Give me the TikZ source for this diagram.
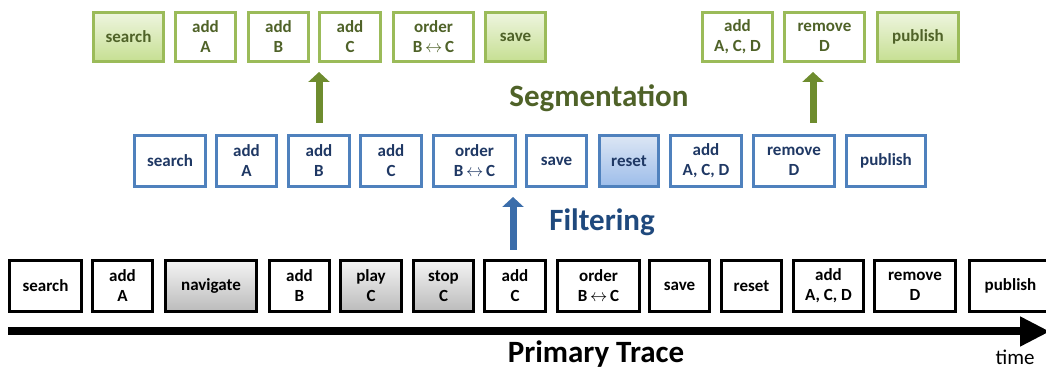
\documentclass[tikz,border=0pt]{standalone}
\usepackage{fontspec}
\setmainfont{Carlito}
\usetikzlibrary{shadows,arrows.meta}
\definecolor{gborder}{HTML}{9BBB59}
\definecolor{gtext}{HTML}{4F6228}
\definecolor{gtop}{HTML}{EEF5DF}
\definecolor{gbot}{HTML}{C6DF92}
\definecolor{bborder}{HTML}{4F81BD}
\definecolor{btext}{HTML}{1F3864}
\definecolor{btop}{HTML}{DCE6F4}
\definecolor{bbot}{HTML}{9DBDEA}
\definecolor{ktop}{HTML}{F4F4F4}
\definecolor{kbot}{HTML}{BBBBBB}
\definecolor{garrow}{HTML}{6E8C2E}
\definecolor{barrow}{HTML}{3B6DAA}
\definecolor{segcol}{HTML}{4F6228}
\definecolor{filcol}{HTML}{1F497D}
\tikzset{
  box/.style={rectangle, line width=3pt, align=center, inner sep=0pt,
    font=\fontsize{17}{20}\selectfont\bfseries},
  gbox/.style={box, draw=gborder, fill=white, text=gtext, minimum height=49pt},
  gfill/.style={gbox, top color=gtop, bottom color=gbot,
    drop shadow={opacity=0.3, shadow xshift=1.5pt, shadow yshift=-2pt}},
  bbox/.style={box, draw=bborder, fill=white, text=btext, minimum height=51pt},
  bfill/.style={bbox, top color=btop, bottom color=bbot,
    drop shadow={opacity=0.3, shadow xshift=1.5pt, shadow yshift=-2pt}},
  kbox/.style={box, draw=black, fill=white, text=black, minimum height=51pt},
  kfill/.style={kbox, top color=ktop, bottom color=kbot,
    drop shadow={opacity=0.3, shadow xshift=1.5pt, shadow yshift=-2pt}},
  garr/.style={-{Triangle[width=21pt,length=10pt]}, line width=7pt, draw=garrow},
  barr/.style={-{Triangle[width=21pt,length=10pt]}, line width=7pt, draw=barrow},
  title/.style={font=\fontsize{31}{36}\selectfont\bfseries}
}
\begin{document}
\begin{tikzpicture}[x=1pt,y=1pt]
\useasboundingbox (0,0) rectangle (1046,371);
% top row (segmentation result)
\node[gfill, minimum width=70pt] (tS) at (128.5,334) {search};
\node[gbox, minimum width=60pt] (tA) at (205.5,334) {add\\A};
\node[gbox, minimum width=60pt] (tB) at (278.5,334) {add\\B};
\node[gbox, minimum width=61pt] (tC) at (350,334) {add\\C};
\node[gbox, minimum width=80pt] (tO) at (433.5,334) {order\\B\,$\leftrightarrow$\,C};
\node[gfill, minimum width=60pt] (tV) at (515.5,334) {save};
\node[gbox, minimum width=70pt] (tD) at (737.5,334) {add\\A, C, D};
\node[gbox, minimum width=80pt] (tR) at (824.5,334) {remove\\D};
\node[gfill, minimum width=81pt] (tP) at (918,334) {publish};
% middle row (filtered)
\node[bbox, minimum width=71pt] (mS) at (170,210) {search};
\node[bbox, minimum width=60pt] (mA) at (246.5,210) {add\\A};
\node[bbox, minimum width=61pt] (mB) at (319,210) {add\\B};
\node[bbox, minimum width=61pt] (mC) at (391,210) {add\\C};
\node[bbox, minimum width=82pt] (mO) at (474.5,210) {order\\B\,$\leftrightarrow$\,C};
\node[bbox, minimum width=60pt] (mV) at (556.5,210) {save};
\node[bfill, minimum width=59pt] (mX) at (629,210) {reset};
\node[bbox, minimum width=71pt] (mD) at (706,210) {add\\A, C, D};
\node[bbox, minimum width=81pt] (mR) at (794,210) {remove\\D};
\node[bbox, minimum width=79pt] (mP) at (886,210) {publish};
% bottom row (primary trace)
\node[kbox, minimum width=72pt] (bS) at (45.5,85) {search};
\node[kbox, minimum width=60pt] (bA) at (122.5,85) {add\\A};
\node[kfill, minimum width=91pt] (bN) at (211,85) {navigate};
\node[kbox, minimum width=60pt] (bB) at (299.5,85) {add\\B};
\node[kfill, minimum width=61pt] (bPl) at (371,85) {play\\C};
\node[kfill, minimum width=60pt] (bSt) at (443.5,85) {stop\\C};
\node[kbox, minimum width=61pt] (bC) at (515,85) {add\\C};
\node[kbox, minimum width=82pt] (bO) at (598.5,85) {order\\B\,$\leftrightarrow$\,C};
\node[kbox, minimum width=60pt] (bV) at (679.5,85) {save};
\node[kbox, minimum width=60pt] (bX) at (751.5,85) {reset};
\node[kbox, minimum width=70pt] (bD) at (828.5,85) {add\\A, C, D};
\node[kbox, minimum width=81pt] (bR) at (915,85) {remove\\D};
\node[kbox, minimum width=82pt] (bP) at (1010.5,85) {publish};
% timeline
\coordinate (tl0) at (8,39.5);
\coordinate (tl1) at (1050,39.5);
\draw[line width=8pt, -{Triangle[width=28pt,length=30pt]}] (tl0) -- (tl1);
% labels
\node[title, text=segcol] (seg) at (599,273) {Segmentation};
\node[title, text=filcol] (fil) at (602,149) {Filtering};
\node[title, anchor=base] (pt) at (596,8) {Primary Trace};
\node[font=\fontsize{21}{24}\selectfont, anchor=base, inner sep=0pt] (time) at (1015,6) {time};
% arrows
\draw[garr] ([yshift=11pt]mB.north) -- ([yshift=-9pt]mB.north |- tB.south);
\draw[garr] ([xshift=19pt,yshift=11pt]mR.north) -- ([xshift=19pt,yshift=-9pt]mR.north |- tR.south);
\draw[barr] ([xshift=-2pt,yshift=9pt]bC.north) -- ([xshift=-2pt,yshift=-9pt]bC.north |- mO.south);
\end{tikzpicture}
\end{document}
